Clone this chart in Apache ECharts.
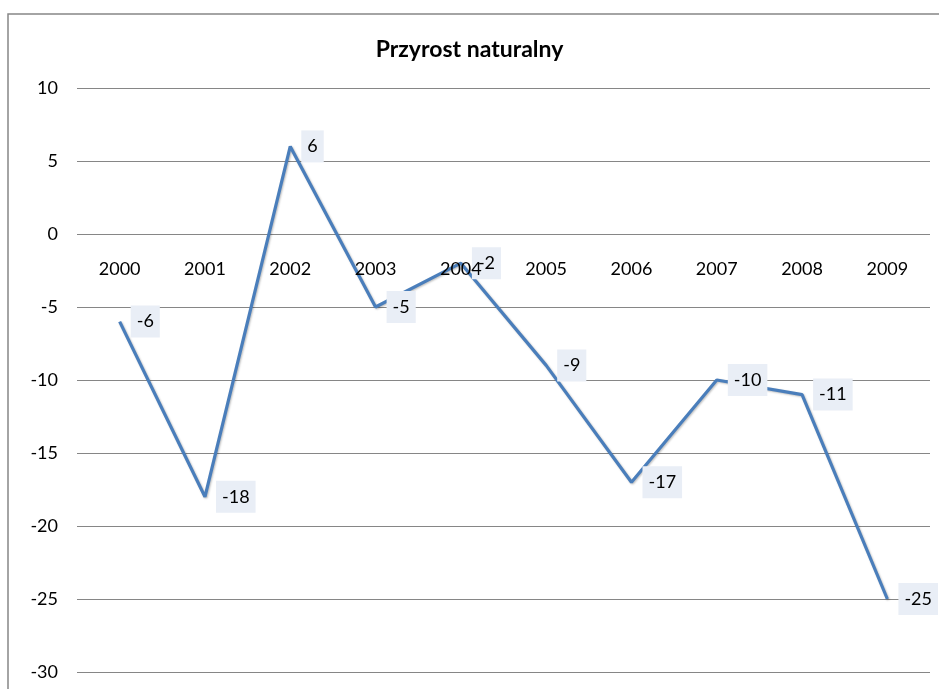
<!DOCTYPE html>
<html>
<head>
<meta charset="utf-8">
<script src="https://cdn.jsdelivr.net/npm/echarts@6/dist/echarts.min.js"></script>
<style>
html,body{margin:0;padding:0;background:#fff;}
#c{width:939px;height:689px;}
</style>
</head>
<body>
<div id="c"></div>
<script>
var categories = ['2000','2001','2002','2003','2004','2005','2006','2007','2008','2009'];
var values = [-6, -18, 6, -5, -2, -9, -17, -10, -11, -25];
var yTicks = { min: -30, max: 10, interval: 5 };
var titleText = 'Przyrost naturalny';

var chart = echarts.init(document.getElementById('c'), null, { renderer: 'canvas' });
var font = 'Lato, "Open Sans", sans-serif';
chart.setOption({
  backgroundColor: '#fff',
  animation: false,
  textStyle: { fontFamily: font },
  title: {
    text: titleText,
    left: 'center',
    top: 33,
    textStyle: { fontFamily: font, fontSize: 23, fontWeight: 'bold', color: '#000' }
  },
  graphic: [{
    type: 'rect',
    shape: { x: 8, y: 14, width: 1000, height: 800 },
    style: { fill: 'none', stroke: '#878787', lineWidth: 1.5 },
    silent: true,
    z: -1
  }],
  grid: { left: 77, right: 9, top: 88, bottom: 17, containLabel: false, outerBoundsMode: 'none' },
  xAxis: {
    type: 'category',
    data: categories,
    boundaryGap: true,
    position: 'bottom',
    offset: -439,
    z: 10,
    axisLine: { show: false, onZero: false },
    axisTick: { show: false },
    axisLabel: { margin: 27, fontSize: 18, color: '#000', fontFamily: font },
    splitLine: { show: false }
  },
  yAxis: {
    type: 'value',
    min: yTicks.min,
    max: yTicks.max,
    interval: yTicks.interval,
    axisLine: { show: false },
    axisTick: { show: false },
    axisLabel: { margin: 19, fontSize: 18, color: '#000', fontFamily: font },
    splitLine: { show: true, lineStyle: { color: '#868686', width: 1.2 } }
  },
  series: [{
    type: 'line',
    data: values,
    symbol: 'circle',
    symbolSize: 0.1,
    showSymbol: true,
    lineStyle: {
      color: '#4A7EBB', width: 3.2,
      shadowColor: 'rgba(0,0,0,0.25)', shadowBlur: 2, shadowOffsetX: 1, shadowOffsetY: 1
    },
    itemStyle: { color: '#4A7EBB' },
    label: {
      show: true,
      position: 'right',
      distance: 11,
      fontSize: 18,
      color: '#000',
      fontFamily: font,
      backgroundColor: '#E9EEF6',
      padding: [7, 6, 7, 6]
    },
    labelLayout: { hideOverlap: false },
    z: 3
  }]
});
</script>
</body>
</html>
